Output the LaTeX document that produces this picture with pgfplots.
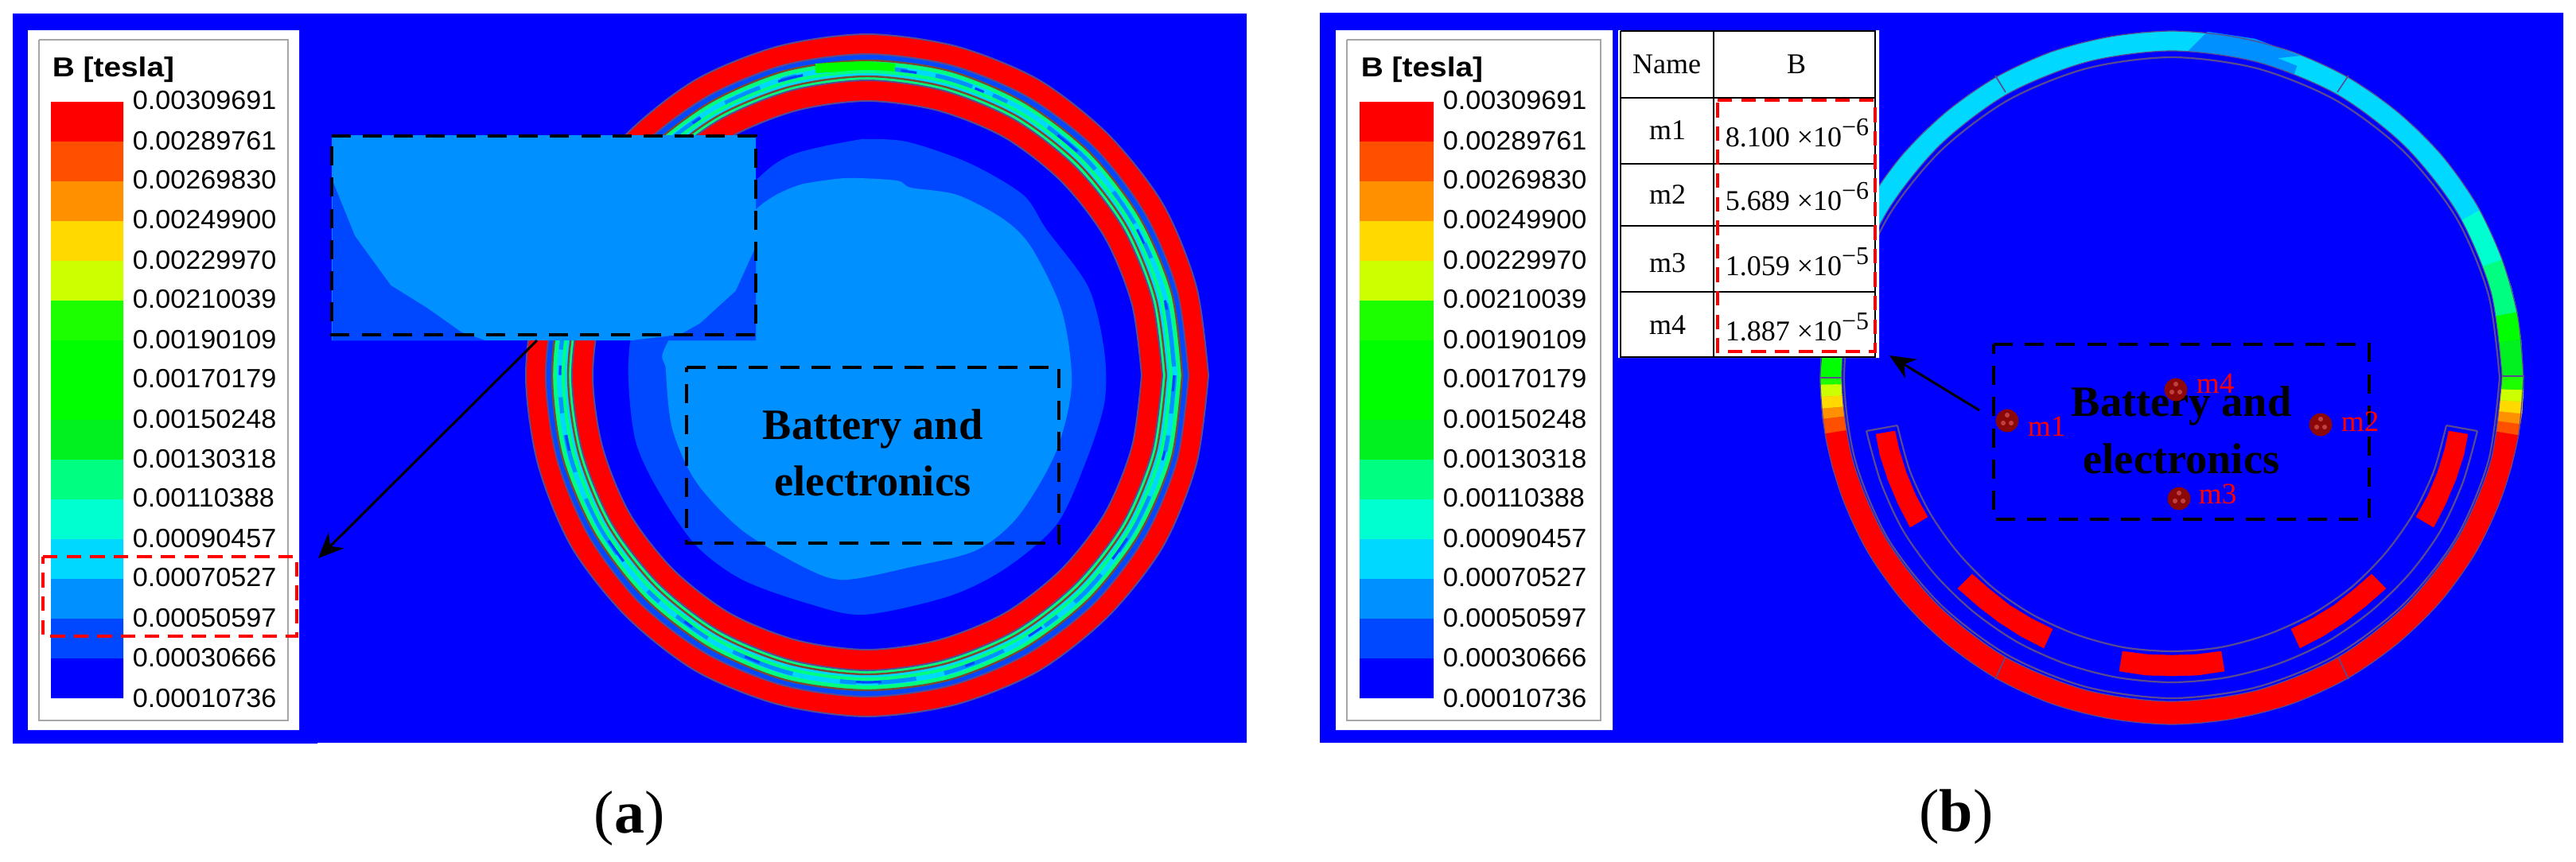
\documentclass[border=0pt]{standalone}
\usepackage{fontspec}
\usepackage{pgfplots}
\pgfplotsset{compat=1.18}
\usetikzlibrary{arrows.meta}
\setmainfont{Liberation Sans}
\newfontfamily\legfont[FakeStretch=1.03]{Liberation Sans}
\newfontfamily\titlefont[FakeStretch=1.13]{Liberation Sans}
\newfontfamily\tnr{Liberation Serif}
\definecolor{bg}{HTML}{0000FF}
\definecolor{cA}{HTML}{FF0000}\definecolor{cB}{HTML}{FF5000}\definecolor{cC}{HTML}{FF9100}
\definecolor{cD}{HTML}{FFD900}\definecolor{cE}{HTML}{CCFF00}\definecolor{cF}{HTML}{1CFF00}
\definecolor{cG}{HTML}{00FF00}\definecolor{cH}{HTML}{00FF00}\definecolor{cI}{HTML}{00F020}
\definecolor{cJ}{HTML}{00FF80}\definecolor{cK}{HTML}{00FFD0}\definecolor{cL}{HTML}{00D8FF}
\definecolor{cM}{HTML}{0090FF}\definecolor{cN}{HTML}{0048FF}\definecolor{cO}{HTML}{0000FF}
\definecolor{edge}{HTML}{5A4A90}\definecolor{brn}{HTML}{7A4A30}
\definecolor{ball}{HTML}{8C0808}\definecolor{ballh}{HTML}{C04040}
\newcommand\poly[2]{\addplot[fill=#1,draw=#1,line width=0.1pt] coordinates {#2};}
\newcommand\blob[2]{\addplot[fill=#1,draw=none,smooth] coordinates {#2};}
\newcommand\seg[5]{\addplot[fill=#5,draw=none] coordinates {(#1,#3)(#2,#3)(#2,#4)(#1,#4)(#1,#3)};}
\newcommand\cbar[2]{%
\seg{#1}{#2}{128}{178}{cA}\seg{#1}{#2}{178}{228}{cB}\seg{#1}{#2}{228}{278}{cC}%
\seg{#1}{#2}{278}{328}{cD}\seg{#1}{#2}{328}{378}{cE}\seg{#1}{#2}{378}{428}{cF}%
\seg{#1}{#2}{428}{478}{cG}\seg{#1}{#2}{478}{528}{cH}\seg{#1}{#2}{528}{578}{cI}%
\seg{#1}{#2}{578}{628}{cJ}\seg{#1}{#2}{628}{678}{cK}\seg{#1}{#2}{678}{728}{cL}%
\seg{#1}{#2}{728}{778}{cM}\seg{#1}{#2}{778}{828}{cN}\seg{#1}{#2}{828}{878}{cO}}
\newcommand\lab[3]{\node[anchor=west,inner sep=0pt,font=\legfont\fontsize{8.3}{10}\selectfont,text=black] at (axis cs:#1,#2) {#3};}
\newcommand\labels[1]{%
\lab{#1}{126}{0.00309691}\lab{#1}{177}{0.00289761}\lab{#1}{226}{0.00269830}\lab{#1}{276}{0.00249900}%
\lab{#1}{327}{0.00229970}\lab{#1}{376}{0.00210039}\lab{#1}{427}{0.00190109}\lab{#1}{476}{0.00170179}%
\lab{#1}{527}{0.00150248}\lab{#1}{577}{0.00130318}\lab{#1}{626}{0.00110388}\lab{#1}{677}{0.00090457}%
\lab{#1}{726}{0.00070527}\lab{#1}{777}{0.00050597}\lab{#1}{827}{0.00030666}\lab{#1}{878}{0.00010736}}
\newcommand\batt[3]{%
\node[anchor=center,inner sep=0pt,font=\tnr\bfseries\fontsize{13.6}{16}\selectfont] at (axis cs:#1,#2) {Battery and};
\node[anchor=center,inner sep=0pt,font=\tnr\bfseries\fontsize{13.6}{16}\selectfont] at (axis cs:#1,#3) {electronics};}
\newcommand\tcell[3]{\node[anchor=center,inner sep=0pt,font=\tnr\fontsize{9}{10}\selectfont] at (axis cs:#1,#2) {#3};}
\newcommand\val[3]{\node[anchor=west,inner sep=0pt,font=\tnr\fontsize{9}{10}\selectfont] at (axis cs:2168,#1) {#2 ×10\raisebox{3.6pt}{\fontsize{8}{9}\selectfont −#3}};}
\newcommand\mlab[3]{\node[anchor=base west,inner sep=0pt,text=red,font=\tnr\fontsize{9.3}{10}\selectfont] at (axis cs:#1,#2) {#3};}
\begin{document}
\begin{tikzpicture}
\begin{axis}[scale only axis,width=809.5pt,height=270.75pt,
  xmin=0,xmax=3238,ymin=0,ymax=1083,y dir=reverse,hide axis,clip=false]
\addplot[draw=none] coordinates {(0,0)(3238,0)(3238,1083)(0,1083)(0,0)};
% ---------- panel a
\seg{16}{1567}{17}{934}{bg}
\seg{16}{399}{17}{935}{bg}
\addplot[fill=red,draw=edge,line width=0.5pt,smooth] coordinates {(1519,472)(1504,583)(1462,687)(1393,775)(1305,844)(1201,886)(1090,901)(979,886)(875,844)(787,775)(718,687)(676,583)(661,472)(676,361)(718,257)(787,169)(875,100)(979,58)(1090,43)(1201,58)(1305,100)(1393,169)(1462,257)(1504,361)(1519,472)};
\addplot[fill=cN,draw=edge,line width=0.5pt,smooth] coordinates {(1494,472)(1480,577)(1440,674)(1376,758)(1292,822)(1195,862)(1090,876)(985,862)(888,822)(804,758)(740,674)(700,577)(686,472)(700,367)(740,270)(804,186)(888,122)(985,82)(1090,68)(1195,82)(1292,122)(1376,186)(1440,270)(1480,367)(1494,472)};
\addplot[fill=cJ,draw=brn,line width=0.6pt,smooth] coordinates {(1486,472)(1473,575)(1433,670)(1370,752)(1288,815)(1193,855)(1090,868)(987,855)(892,815)(810,752)(747,670)(707,575)(694,472)(707,369)(747,274)(810,192)(892,129)(987,89)(1090,76)(1193,89)(1288,129)(1370,192)(1433,274)(1473,369)(1486,472)};
\addplot[fill=cL,draw=none,smooth] coordinates {(1480,472)(1467,573)(1428,667)(1366,748)(1285,810)(1191,849)(1090,862)(989,849)(895,810)(814,748)(752,667)(713,573)(700,472)(713,371)(752,277)(814,196)(895,134)(989,95)(1090,82)(1191,95)(1285,134)(1366,196)(1428,277)(1467,371)(1480,472)};
\addplot[draw=cM,line width=1.6pt,smooth,dash pattern=on 12pt off 7pt on 5pt off 15pt on 20pt off 9pt] coordinates {(1476,472)(1463,572)(1424,665)(1363,745)(1283,806)(1190,845)(1090,858)(990,845)(897,806)(817,745)(756,665)(717,572)(704,472)(717,372)(756,279)(817,199)(897,138)(990,99)(1090,86)(1190,99)(1283,138)(1363,199)(1424,279)(1463,372)(1476,472)};
\addplot[draw=cN,line width=0.8pt,smooth,dash pattern=on 5pt off 19pt on 3pt off 27pt on 8pt off 31pt] coordinates {(1476,472)(1463,572)(1424,665)(1363,745)(1283,806)(1190,845)(1090,858)(990,845)(897,806)(817,745)(756,665)(717,572)(704,472)(717,372)(756,279)(817,199)(897,138)(990,99)(1090,86)(1190,99)(1283,138)(1363,199)(1424,279)(1463,372)(1476,472)};
\addplot[draw=cG,line width=3pt] coordinates {(1025,86)(1060,84)(1090,83)(1125,86)};
\addplot[draw=cJ,line width=1pt,smooth] coordinates {(1472,472)(1459,571)(1421,663)(1360,742)(1281,803)(1189,841)(1090,854)(991,841)(899,803)(820,742)(759,663)(721,571)(708,472)(721,373)(759,281)(820,202)(899,141)(991,103)(1090,90)(1189,103)(1281,141)(1360,202)(1421,281)(1459,373)(1472,472)};
\addplot[fill=cJ,draw=brn,line width=0.6pt,smooth] coordinates {(1466,472)(1453,569)(1416,660)(1356,738)(1278,798)(1187,835)(1090,848)(993,835)(902,798)(824,738)(764,660)(727,569)(714,472)(727,375)(764,284)(824,206)(902,146)(993,109)(1090,96)(1187,109)(1278,146)(1356,206)(1416,284)(1453,375)(1466,472)};
\addplot[fill=red,draw=edge,line width=0.5pt,smooth] coordinates {(1461,472)(1448,568)(1411,658)(1352,734)(1276,793)(1186,830)(1090,843)(994,830)(904,793)(828,734)(769,658)(732,568)(719,472)(732,376)(769,286)(828,210)(904,151)(994,114)(1090,101)(1186,114)(1276,151)(1352,210)(1411,286)(1448,376)(1461,472)};
\addplot[fill=bg,draw=edge,line width=0.5pt,smooth] coordinates {(1435,472)(1423,561)(1389,645)(1334,716)(1263,771)(1179,805)(1090,817)(1001,805)(917,771)(846,716)(791,645)(757,561)(745,472)(757,383)(791,299)(846,228)(917,173)(1001,139)(1090,127)(1179,139)(1263,173)(1334,228)(1389,299)(1423,383)(1435,472)};
% contour blobs
\blob{cN}{(1083,175)(1139,178)(1218,205)(1286,245)(1315,288)(1368,361)(1388,441)(1388,508)(1362,588)(1327,661)(1262,716)(1192,750)(1086,773)(1016,759)(933,729)(875,686)(828,618)(798,551)(790,453)(810,392)(933,245)(992,196)(1083,175)}
\blob{cM}{(1010,231)(1063,224)(1127,227)(1145,236)(1203,245)(1262,276)(1297,312)(1335,392)(1347,484)(1327,569)(1280,649)(1227,692)(1145,713)(1063,729)(1016,716)(933,667)(875,606)(845,539)(837,465)(840,429)(945,269)(1010,231)}
% magnified inset
\seg{417}{950}{170}{428}{cM}
\poly{cN}{(418,228)(446,297)(491,359)(536,387)(580,418)(609,428)(418,428)(418,228)}
\poly{cN}{(950,311)(925,366)(880,407)(855,421)(797,428)(950,428)(950,311)}
\addplot[draw=black,line width=0.85pt,dash pattern=on 6pt off 3.8pt] coordinates {(417,171)(950,171)(950,421)(417,421)(417,171)};
\addplot[draw=black,line width=0.85pt,dash pattern=on 6pt off 3.8pt] coordinates {(863,462)(1331,462)(1331,683)(863,683)(863,462)};
\batt{1097}{539}{605}
% legend a
\seg{35}{376}{38}{918}{white}
\addplot[draw=gray!70,line width=0.3pt] coordinates {(49,50)(362,50)(362,906)(49,906)(49,50)};
\cbar{64}{155}
\node[anchor=west,inner sep=0pt,font=\titlefont\bfseries\fontsize{8.6}{10}\selectfont] at (axis cs:65,88) {B [tesla]};
\labels{166}
\addplot[draw=red,line width=1.2pt,dash pattern=on 4.6pt off 2.8pt] coordinates {(54,700)(373,700)(373,800)(54,800)(54,700)};
\addplot[draw=black,line width=0.75pt,-{Stealth[length=8pt,width=7pt]}] coordinates {(675,428)(400,702)};
\node[anchor=center,inner sep=0pt,font=\tnr\fontsize{19}{22}\selectfont] at (axis cs:791,1029) {(\textbf{a})};
% ---------- panel b
\seg{1659}{3222}{16}{934}{bg}
% ring: wedges from the centre
\poly{cA}{(2730,475)(3166,547)(3157,588)(3145,624)(3130,659)(3113,693)(3092,725)(3069,755)(3043,783)(3014,809)(2984,832)(2951,853)(2917,870)(2881,885)(2844,896)(2807,904)(2769,909)(2730,911)(2691,909)(2653,904)(2616,896)(2579,885)(2543,870)(2509,853)(2476,832)(2446,809)(2417,783)(2391,755)(2368,725)(2347,693)(2330,659)(2315,624)(2303,588)(2295,551)(2294,545)(2730,475)}
\poly{cB}{(2730,475)(3166,547)(3168,533)(2730,475)}
\poly{cC}{(2730,475)(3168,533)(3170,520)(2730,475)}
\poly{cD}{(2730,475)(3170,520)(3171,505)(2730,475)}
\poly{cE}{(2730,475)(3171,505)(3172,490)(2730,475)}
\poly{cF}{(2730,475)(3172,490)(3172,473)(2730,475)}
\poly{cI}{(2730,475)(3172,473)(3169,427)(2730,475)}
\poly{cG}{(2730,475)(3169,427)(3164,392)(2730,475)}
\poly{cJ}{(2730,475)(3164,392)(3157,362)(3145,326)(2730,475)}
\poly{cK}{(2730,475)(3145,326)(3130,291)(3117,264)(2730,475)}
\poly{cL}{(2730,475)(3117,264)(3113,257)(3092,225)(3069,195)(3043,167)(3014,141)(2984,118)(2951,97)(2917,80)(2881,65)(2844,54)(2807,46)(2769,41)(2730,39)(2691,41)(2653,46)(2616,54)(2579,65)(2543,80)(2509,97)(2476,118)(2446,141)(2417,167)(2391,195)(2368,225)(2347,257)(2330,291)(2315,326)(2730,475)}
\poly{cM}{(2775,40)(2835,49)(2890,70)(2862,73)(2887,83)(2883,95)(2800,72)(2747,68)(2775,40)}
\poly{cG}{(2730,475)(2315,326)(2295,399)(2288,475)(2730,475)}
\poly{cF}{(2730,475)(2288,475)(2288,484)(2730,475)}
\poly{cE}{(2730,475)(2288,484)(2289,499)(2730,475)}
\poly{cD}{(2730,475)(2289,499)(2290,514)(2730,475)}
\poly{cC}{(2730,475)(2290,514)(2291,527)(2730,475)}
\poly{cB}{(2730,475)(2291,527)(2294,545)(2730,475)}
\addplot[draw=edge,line width=0.3pt,smooth] coordinates {(3172,475)(3165,551)(3145,624)(3113,693)(3069,755)(3014,809)(2951,853)(2881,885)(2807,904)(2730,911)(2653,904)(2579,885)(2509,853)(2446,809)(2391,755)(2347,693)(2315,624)(2295,551)(2288,475)(2295,399)(2315,326)(2347,257)(2391,195)(2446,141)(2509,97)(2579,65)(2653,46)(2730,39)(2807,46)(2881,65)(2951,97)(3014,141)(3069,195)(3113,257)(3145,326)(3165,399)(3172,475)};
\addplot[fill=bg,draw=edge,line width=0.3pt,smooth] coordinates {(3145,473)(3131,579)(3089,678)(3023,762)(2938,827)(2837,868)(2730,882)(2623,868)(2522,827)(2437,762)(2371,678)(2329,579)(2315,473)(2329,367)(2371,268)(2437,184)(2522,119)(2623,78)(2730,64)(2837,78)(2938,119)(3023,184)(3089,268)(3131,367)(3145,473)};
\addplot[draw=edge,line width=0.55pt,smooth] coordinates {(3142,475)(3128,579)(3087,677)(3021,760)(2936,824)(2837,864)(2730,878)(2623,864)(2524,824)(2439,760)(2373,677)(2332,579)(2318,475)(2332,371)(2373,273)(2439,190)(2524,126)(2623,86)(2730,72)(2837,86)(2936,126)(3021,190)(3087,273)(3128,371)(3142,475)};
% separators
\addplot[draw=edge,line width=0.4pt] coordinates {(3146,473)(3173,473)};
\addplot[draw=edge,line width=0.4pt] coordinates {(2288,475)(2315,475)};
\addplot[draw=edge,line width=0.4pt] coordinates {(2508,95)(2521,116)};
\addplot[draw=edge,line width=0.4pt] coordinates {(2952,95)(2938,116)};
\addplot[draw=edge,line width=0.4pt] coordinates {(2508,854)(2521,826)};
\addplot[draw=edge,line width=0.4pt] coordinates {(2952,854)(2939,826)};
% magnets
\poly{cA}{(2358,546)(2363,572)(2373,603)(2386,634)(2401,663)(2423,650)(2408,623)(2396,594)(2387,565)(2382,542)(2358,546)}
\poly{cA}{(2461,740)(2486,762)(2512,782)(2540,800)(2569,815)(2580,791)(2552,777)(2526,761)(2502,742)(2479,722)(2461,740)}
\poly{cA}{(2664,844)(2697,849)(2730,850)(2763,849)(2796,844)(2792,819)(2761,823)(2730,824)(2699,823)(2668,819)(2664,844)}
\poly{cA}{(2999,740)(2974,762)(2948,782)(2920,800)(2891,815)(2880,791)(2908,777)(2934,761)(2958,742)(2981,722)(2999,740)}
\poly{cA}{(3102,546)(3097,572)(3087,603)(3074,634)(3059,663)(3037,650)(3052,623)(3064,594)(3073,565)(3078,542)(3102,546)}
% magnet housing
\addplot[draw=edge,line width=0.55pt,smooth] coordinates {(2346,542)(2364,606)(2392,667)(2431,721)(2479,768)(2535,807)(2597,835)(2662,852)(2730,858)(2798,852)(2863,835)(2925,807)(2981,768)(3029,721)(3068,667)(3096,606)(3114,542)};
\addplot[draw=edge,line width=0.55pt,smooth] coordinates {(3075,535)(3059,593)(3033,647)(2998,696)(2955,739)(2905,773)(2850,798)(2791,814)(2730,819)(2669,814)(2610,798)(2555,773)(2505,739)(2462,696)(2427,647)(2401,593)(2385,535)};
\addplot[draw=edge,line width=0.55pt] coordinates {(2346,542)(2385,535)};
\addplot[draw=edge,line width=0.55pt] coordinates {(3114,542)(3075,535)};
% box and texts
\addplot[draw=black,line width=0.85pt,dash pattern=on 6pt off 3.8pt] coordinates {(2506,433)(2978,433)(2978,653)(2506,653)(2506,433)};
\batt{2742}{510}{577}
\addplot[only marks,mark=*,mark size=3.4pt,mark options={fill=ball,draw=ball}] coordinates {(2523,529)(2735,490)(2917,534)(2739,627)};
\addplot[only marks,mark=*,mark size=0.55pt,mark options={fill=ballh,draw=ballh}] coordinates {(2523,522)(2518,532)(2528,532)(2735,483)(2730,493)(2740,493)(2917,527)(2912,537)(2922,537)(2739,620)(2734,630)(2744,630)};
\mlab{2548}{548}{m1}
\mlab{2942}{542}{m2}
\mlab{2763}{633}{m3}
\mlab{2760}{494}{m4}
\addplot[draw=black,line width=0.75pt,-{Stealth[length=8pt,width=7pt]}] coordinates {(2488,516)(2375,447)};
% legend b
\seg{1679}{2027}{38}{918}{white}
\addplot[draw=gray!70,line width=0.3pt] coordinates {(1693,50)(2012,50)(2012,906)(1693,906)(1693,50)};
\cbar{1709}{1802}
\node[anchor=west,inner sep=0pt,font=\titlefont\bfseries\fontsize{8.6}{10}\selectfont] at (axis cs:1710,88) {B [tesla]};
\labels{1813}
% table
\seg{2034}{2362}{38}{450}{white}
\addplot[draw=black,line width=0.5pt] coordinates {(2037,39)(2357,39)(2357,449)(2037,449)(2037,39)};
\addplot[draw=black,line width=0.5pt] coordinates {(2154,39)(2154,449)};
\addplot[draw=black,line width=0.5pt] coordinates {(2037,123)(2357,123)};
\addplot[draw=black,line width=0.5pt] coordinates {(2037,206)(2357,206)};
\addplot[draw=black,line width=0.5pt] coordinates {(2037,284)(2357,284)};
\addplot[draw=black,line width=0.5pt] coordinates {(2037,367)(2357,367)};
\tcell{2095}{81}{Name}\tcell{2258}{81}{B}
\tcell{2096}{164}{m1}\tcell{2096}{245}{m2}\tcell{2096}{331}{m3}\tcell{2096}{409}{m4}
\val{167}{8.100}{6}\val{247}{5.689}{6}\val{329}{1.059}{5}\val{411}{1.887}{5}
\addplot[draw=red,line width=1.2pt,dash pattern=on 4.6pt off 2.8pt] coordinates {(2159,126)(2357,126)(2357,442)(2159,442)(2159,126)};
\node[anchor=center,inner sep=0pt,font=\tnr\fontsize{19}{22}\selectfont] at (axis cs:2459,1027) {(\textbf{b})};
\end{axis}
\end{tikzpicture}
\end{document}
